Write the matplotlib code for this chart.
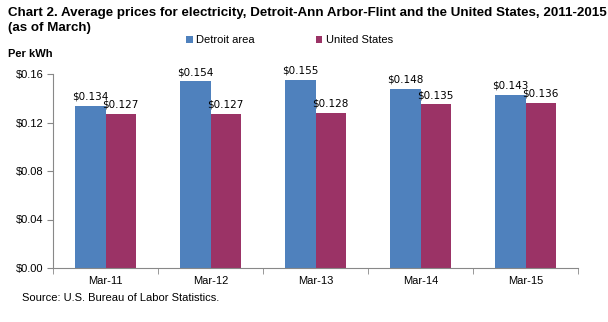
import matplotlib
matplotlib.use("Agg")
import matplotlib.pyplot as plt
import numpy as np

categories = ["Mar-11", "Mar-12", "Mar-13", "Mar-14", "Mar-15"]
detroit = [0.134, 0.154, 0.155, 0.148, 0.143]
us = [0.127, 0.127, 0.128, 0.135, 0.136]
yticks = [0.00, 0.04, 0.08, 0.12, 0.16]

BLUE = "#4F81BD"
PURPLE = "#9B3366"

plt.rcParams["font.family"] = ["Liberation Sans", "DejaVu Sans"]

fig = plt.figure(figsize=(6.08, 3.22), dpi=100)
ax = fig.add_axes([53 / 608, 54 / 322, 525 / 608, 194 / 322])

x = np.arange(len(categories))
w = 0.286
b1 = ax.bar(x - w / 2, detroit, w, color=BLUE, label="Detroit area")
b2 = ax.bar(x + w / 2, us, w, color=PURPLE, label="United States")

for bars, vals in ((b1, detroit), (b2, us)):
    for rect, v in zip(bars, vals):
        ax.text(rect.get_x() + rect.get_width() / 2, v + 0.0035, f"${v:.3f}",
                ha="center", va="bottom", fontsize=7.5, color="black",
                family=["DejaVu Sans"])

ax.set_xlim(-0.5, len(categories) - 0.5)
ax.set_ylim(0, 0.16)
ax.set_yticks(yticks)
ax.set_yticklabels([f"${t:.2f}" for t in yticks], fontsize=8)
ax.set_xticks(x)
ax.set_xticklabels(categories, fontsize=8)
ax.set_xticks(np.arange(len(categories) + 1) - 0.5, minor=True)
ax.tick_params(axis="x", which="major", length=0, pad=6)
ax.tick_params(axis="x", which="minor", length=4, color="#888888")
ax.tick_params(axis="y", length=4, color="#888888", pad=3)
for side in ("top", "right"):
    ax.spines[side].set_visible(False)
for side in ("left", "bottom"):
    ax.spines[side].set_color("#888888")

title_lines = ["Chart 2. Average prices for electricity, Detroit-Ann Arbor-Flint and the United States, 2011-2015",
               "(as of March)"]
for line, ypx in zip(title_lines, (13, 28)):
    fig.text(8 / 608, 1 - ypx / 322, line, fontsize=9.6, fontweight="bold",
             va="center", ha="left")
fig.text(8 / 608, 1 - 54 / 322, "Per kWh", fontsize=8, fontweight="bold", va="center")
fig.text(22 / 608, 1 - 298 / 322, "Source: U.S. Bureau of Labor Statistics.", fontsize=8, va="center")

fig.legend(handles=[b1, b2], loc="center left", bbox_to_anchor=(186 / 608, 1 - 40 / 322),
           ncol=2, frameon=False, fontsize=8, handlelength=0.6, handleheight=0.6,
           handletextpad=0.3, columnspacing=5.5, borderaxespad=0, borderpad=0)

fig.savefig("out.png", dpi=100)
